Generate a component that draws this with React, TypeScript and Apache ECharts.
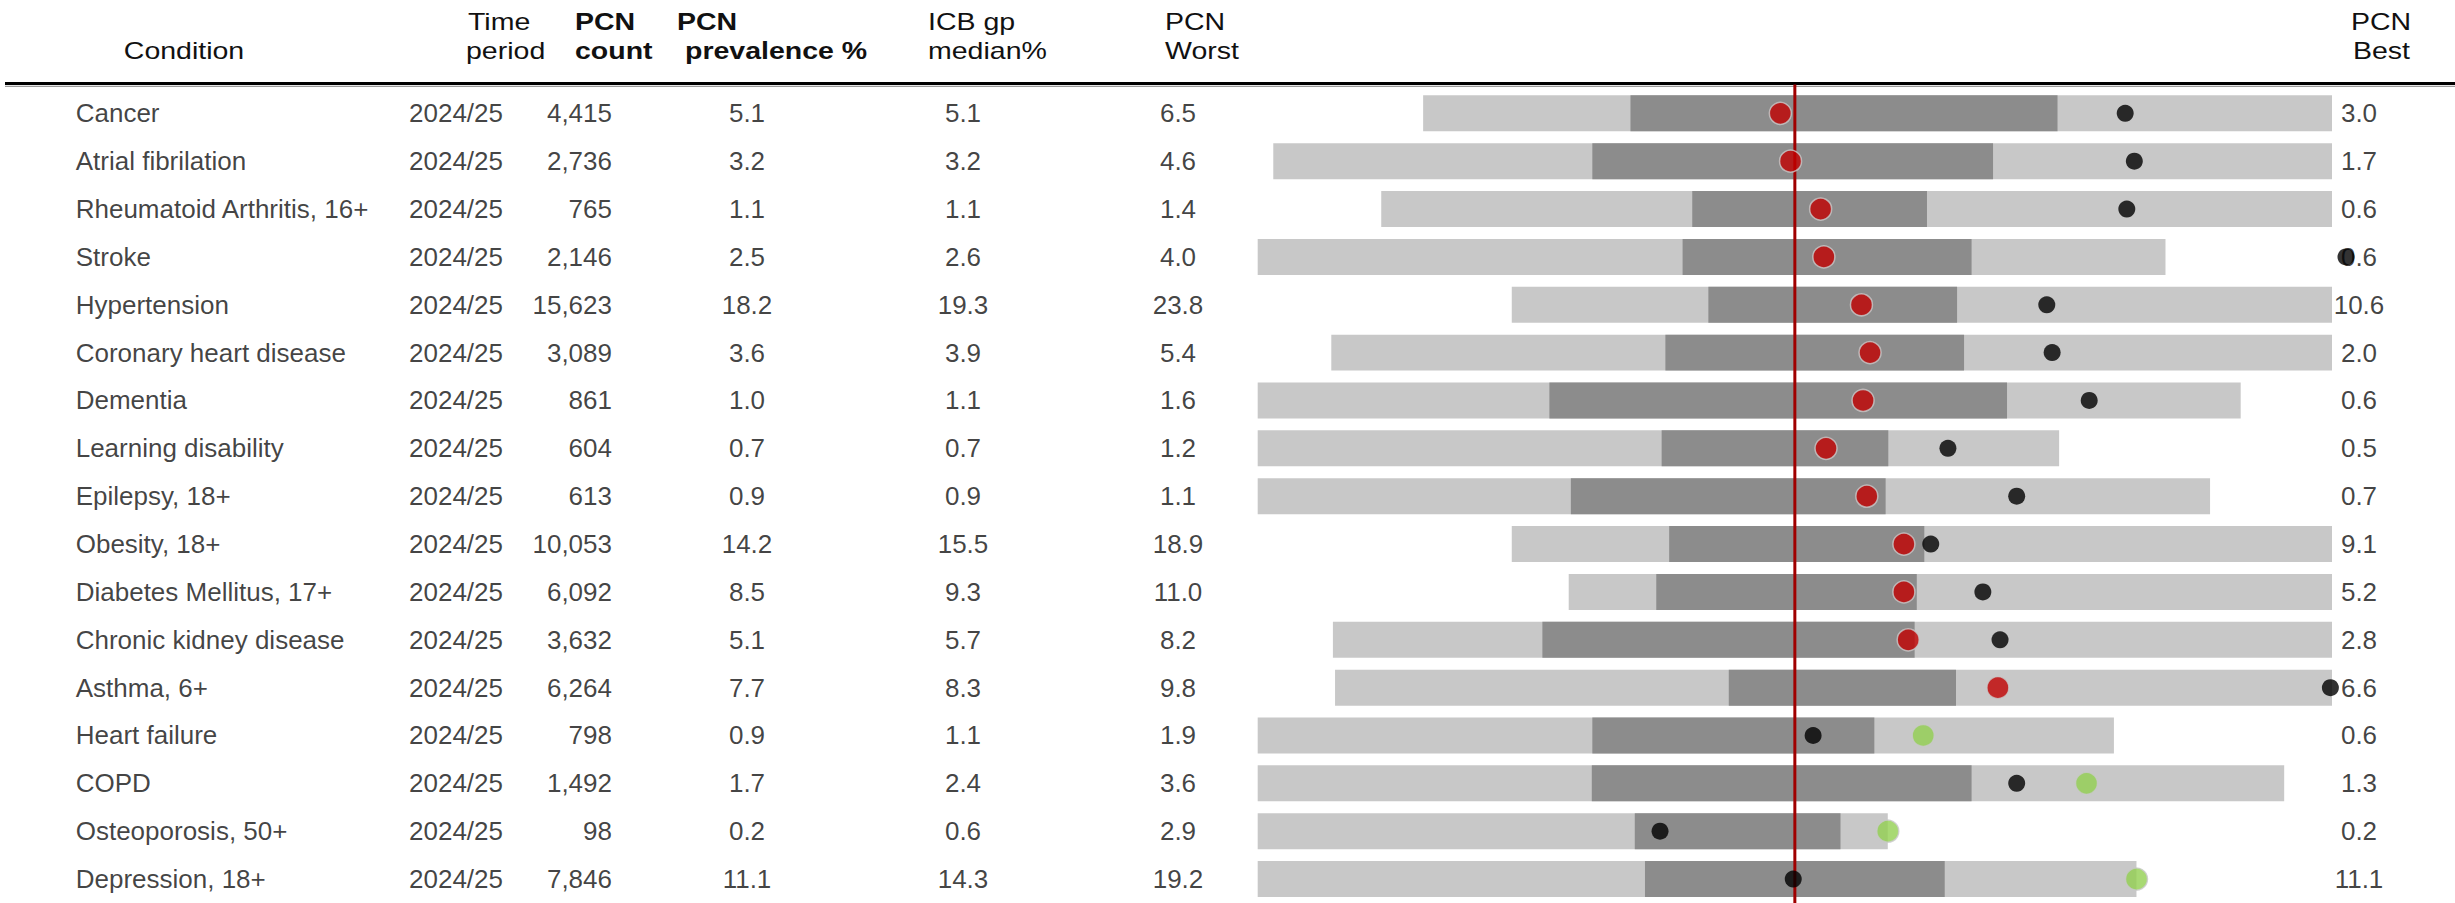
import React, { useEffect, useRef } from "react";
import * as echarts from "echarts";

// ---------- Data ----------
const conditions = [
  "Cancer",
  "Atrial fibrilation",
  "Rheumatoid Arthritis, 16+",
  "Stroke",
  "Hypertension",
  "Coronary heart disease",
  "Dementia",
  "Learning disability",
  "Epilepsy, 18+",
  "Obesity, 18+",
  "Diabetes Mellitus, 17+",
  "Chronic kidney disease",
  "Asthma, 6+",
  "Heart failure",
  "COPD",
  "Osteoporosis, 50+",
  "Depression, 18+",
];
const timePeriods = Array.from({ length: 17 }, () => "2024/25");
const pcnCount = [4415, 2736, 765, 2146, 15623, 3089, 861, 604, 613, 10053, 6092, 3632, 6264, 798, 1492, 98, 7846];
const pcnPrevalence = [5.1, 3.2, 1.1, 2.5, 18.2, 3.6, 1.0, 0.7, 0.9, 14.2, 8.5, 5.1, 7.7, 0.9, 1.7, 0.2, 11.1];
const icbMedian = [5.1, 3.2, 1.1, 2.6, 19.3, 3.9, 1.1, 0.7, 0.9, 15.5, 9.3, 5.7, 8.3, 1.1, 2.4, 0.6, 14.3];
const pcnWorst = [6.5, 4.6, 1.4, 4.0, 23.8, 5.4, 1.6, 1.2, 1.1, 18.9, 11.0, 8.2, 9.8, 1.9, 3.6, 2.9, 19.2];
const pcnBest = [3.0, 1.7, 0.6, 0.6, 10.6, 2.0, 0.6, 0.5, 0.7, 9.1, 5.2, 2.8, 6.6, 0.6, 1.3, 0.2, 11.1];

// Spine chart positions on a scale of -100 (worst edge) .. 0 (ICB median) .. 100 (best edge)
const lightStart = [-69.2, -97.1, -77.0, -100, -52.7, -86.3, -100, -100, -100, -52.7, -42.1, -86.0, -85.6, -100, -100, -100, -100];
const darkStart = [-30.6, -37.7, -19.1, -20.9, -16.1, -24.1, -45.7, -24.8, -41.7, -23.4, -25.8, -47.0, -12.3, -37.7, -37.8, -29.8, -27.9];
const darkEnd = [48.9, 36.9, 24.6, 32.9, 30.2, 31.5, 39.5, 17.4, 16.9, 24.1, 22.7, 22.3, 30.0, 14.8, 32.9, 8.5, 27.9];
const lightEnd = [100, 100, 100, 69.0, 100, 100, 83.0, 49.2, 77.3, 100, 100, 100, 100, 59.4, 91.1, 17.3, 63.6];
const pcnMarker = [-2.7, -0.8, 4.8, 5.4, 12.4, 14.0, 12.7, 5.8, 13.4, 20.3, 20.3, 21.1, 37.8, 23.9, 54.3, 17.3, 63.6];
const pcnSignificance = [
  "worse", "worse", "worse", "worse", "worse", "worse", "worse", "worse", "worse",
  "worse", "worse", "worse", "worse", "better", "better", "better", "better",
];
const comparatorMarker = [61.5, 63.2, 61.8, 102.6, 46.9, 47.9, 54.8, 28.5, 41.3, 25.3, 35.0, 38.2, 99.7, 3.4, 41.3, -25.1, -0.3];
const medianPosition = 0;

// ---------- Layout / style ----------
const W = 2455;
const H = 903;
const GRID_TOP = 89.4;
const GRID_H = 813.6;
const LINE_TOP = 84.5;
const CHART_LEFT = 1257.7;
const CHART_W = 1074.3;
const FONT = "'Liberation Sans', Arial, sans-serif";
const BODY_SIZE = 26;
const HEAD_SIZE = 23;
const HEAD_SCALE = 1.24;
const LIGHT = "#c8c8c8";
const DARK = "#8c8c8c";
const RED = "#c00000";
const GREEN = "#92d050";
const LINE_RED = "#a00000";

const fmt1 = (v: number) => v.toFixed(1);
const fmtCount = (v: number) => v.toLocaleString("en-GB");

export default function App() {
  const ref = useRef<HTMLDivElement>(null);

  useEffect(() => {
    if (!ref.current) return;
    const chart = echarts.init(ref.current, null, { renderer: "svg", width: W, height: H });

    const rangeSeries = (starts: number[], ends: number[], color: string, z: number) => ({
      type: "custom",
      xAxisIndex: 0,
      yAxisIndex: 0,
      z,
      silent: true,
      encode: { x: [0, 1], y: 2 },
      data: starts.map((s, i) => [s, ends[i], i]),
      renderItem: (_params: any, api: any) => {
        const a = api.coord([api.value(0), api.value(2)]);
        const b = api.coord([api.value(1), api.value(2)]);
        const h = api.size([0, 1])[1] * 0.752;
        return {
          type: "rect",
          shape: { x: a[0], y: a[1] - h / 2, width: b[0] - a[0], height: h },
          style: { fill: color },
        };
      },
    });

    const textSeries = (texts: string[], x: number, align: string, name: string) => ({
      type: "scatter",
      name,
      xAxisIndex: 1,
      yAxisIndex: 1,
      silent: true,
      symbolSize: 1,
      itemStyle: { color: "rgba(0,0,0,0)" },
      data: texts.map((_t, i) => [x, i]),
      label: {
        show: true,
        position: "inside",
        align,
        verticalAlign: "middle",
        formatter: (p: any) => texts[p.dataIndex],
        fontFamily: FONT,
        fontSize: BODY_SIZE,
        color: "#111",
      },
    });

    const header = (text: string, x: number, y: number, bold: boolean, align = "left") => ({
      type: "text",
      x,
      y,
      scaleX: HEAD_SCALE,
      silent: true,
      style: {
        text,
        fontFamily: FONT,
        fontSize: HEAD_SIZE,
        fontWeight: bold ? "bold" : "normal",
        fill: "#111",
        align,
        textAlign: align,
        verticalAlign: "middle",
        textVerticalAlign: "middle",
      },
    });

    const L1 = 22;
    const L2 = 51;

    const option: any = {
      animation: false,
      backgroundColor: "#fff",
      grid: [
        { left: CHART_LEFT, width: CHART_W, top: GRID_TOP, height: GRID_H },
        { left: 0, width: W, top: GRID_TOP, height: GRID_H },
        { left: CHART_LEFT, width: CHART_W, top: LINE_TOP, height: H - LINE_TOP },
      ],
      xAxis: [
        { gridIndex: 0, type: "value", min: -100, max: 100, show: false },
        { gridIndex: 1, type: "value", min: 0, max: W, show: false },
        { gridIndex: 2, type: "value", min: -100, max: 100, show: false },
      ],
      yAxis: [
        { gridIndex: 0, type: "category", data: conditions, inverse: true, show: false },
        { gridIndex: 1, type: "category", data: conditions, inverse: true, show: false },
        { gridIndex: 2, type: "value", min: 0, max: 1, show: false },
      ],
      series: [
        rangeSeries(lightStart, lightEnd, LIGHT, 1),
        rangeSeries(darkStart, darkEnd, DARK, 2),
        {
          type: "line",
          name: "ICB median",
          xAxisIndex: 2,
          yAxisIndex: 2,
          z: 3,
          silent: true,
          symbol: "none",
          data: [
            [medianPosition, 0],
            [medianPosition, 1],
          ],
          lineStyle: { color: LINE_RED, width: 3 },
        },
        {
          type: "scatter",
          name: "PCN",
          xAxisIndex: 0,
          yAxisIndex: 0,
          z: 4,
          clip: false,
          symbolSize: 22,
          data: pcnMarker.map((v, i) => ({
            value: [v, i],
            itemStyle: { color: pcnSignificance[i] === "worse" ? RED : GREEN },
          })),
          itemStyle: { borderColor: "#c9c9c9", borderWidth: 1.5 },
        },
        {
          type: "scatter",
          name: "Comparator",
          xAxisIndex: 0,
          yAxisIndex: 0,
          z: 5,
          clip: false,
          symbolSize: 17,
          data: comparatorMarker.map((v, i) => [v, i]),
          itemStyle: { color: "#000" },
        },
        textSeries(conditions, 75.7, "left", "Condition"),
        textSeries(timePeriods, 409, "left", "Time period"),
        textSeries(pcnCount.map(fmtCount), 612, "right", "PCN count"),
        textSeries(pcnPrevalence.map(fmt1), 747, "center", "PCN prevalence %"),
        textSeries(icbMedian.map(fmt1), 963, "center", "ICB gp median%"),
        textSeries(pcnWorst.map(fmt1), 1178, "center", "PCN Worst"),
        textSeries(pcnBest.map(fmt1), 2359, "center", "PCN Best"),
      ],
      graphic: [
        header("Condition", 184, L2, false, "center"),
        header("Time", 468, L1, false),
        header("period", 466, L2, false),
        header("PCN", 575, L1, true),
        header("count", 575, L2, true),
        header("PCN", 677, L1, true),
        header("prevalence %", 685, L2, true),
        header("ICB gp", 928, L1, false),
        header("median%", 928, L2, false),
        header("PCN", 1165, L1, false),
        header("Worst", 1165, L2, false),
        header("PCN", 2351, L1, false),
        header("Best", 2353, L2, false),
        {
          type: "line",
          silent: true,
          shape: { x1: 5, y1: 83.5, x2: W, y2: 83.5 },
          style: { stroke: "#000", lineWidth: 3 },
        },
        {
          type: "line",
          silent: true,
          shape: { x1: 5, y1: 86.3, x2: W, y2: 86.3 },
          style: { stroke: "#9a9a9a", lineWidth: 1.2 },
        },
      ],
    };

    chart.setOption(option);
    return () => chart.dispose();
  }, []);

  return (
    <div
      ref={ref}
      style={{ position: "absolute", left: 0, top: 0, width: W, height: H, background: "#fff" }}
    />
  );
}
